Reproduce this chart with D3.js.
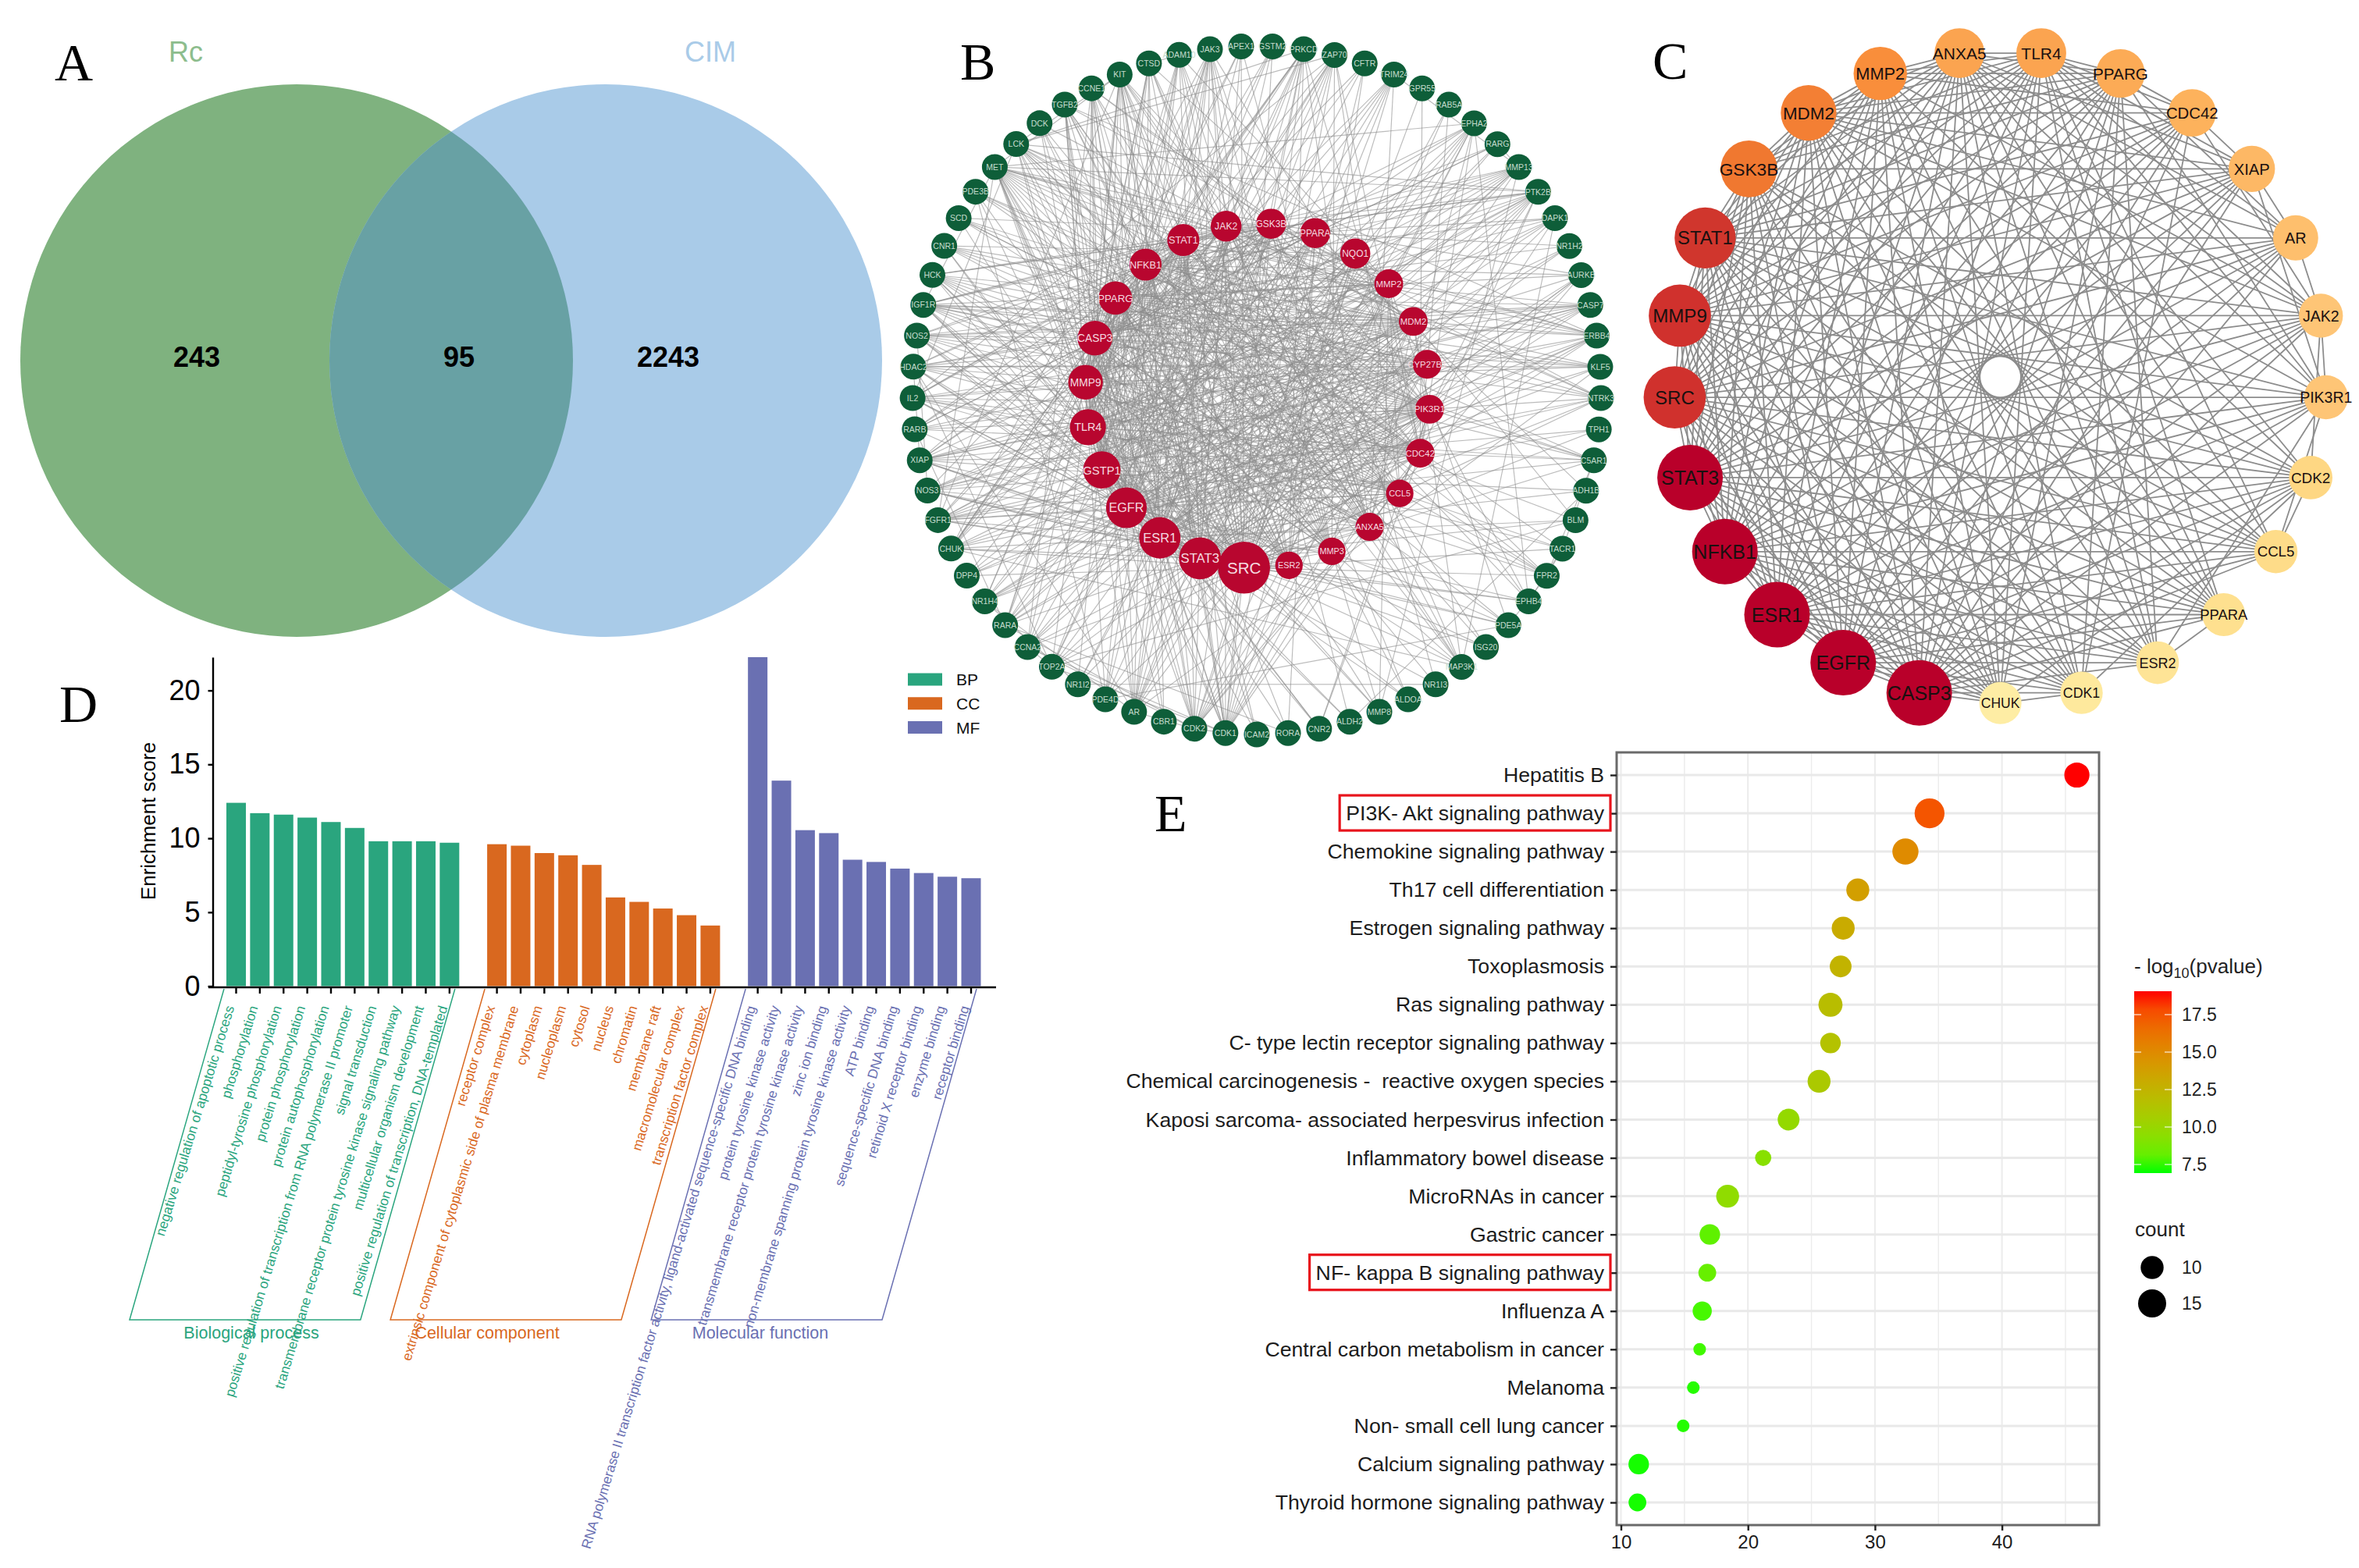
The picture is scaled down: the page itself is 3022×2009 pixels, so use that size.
<!DOCTYPE html>
<html><head><meta charset="utf-8">
<script src="https://cdn.jsdelivr.net/npm/d3@7/dist/d3.min.js"></script>
<style>
html,body{margin:0;padding:0;background:#fff}
svg{display:block}
text{font-family:"Liberation Sans",Arial,sans-serif;white-space:pre}
.panel{font-family:"Liberation Serif","Times New Roman",serif;font-size:68px;fill:#000}
</style></head><body>
<svg id="chart" width="3022" height="2009" viewBox="0 0 3022 2009"></svg>
<script>
// ---------- Panel A data ----------
const vennSets = ["Rc", "CIM"];
const vennCounts = [243, 95, 2243];

// ---------- Panel B data ----------
const hubNames = ["SRC","ESR2","MMP3","ANXA5","CCL5","CDC42","PIK3R1","CYP27B1","MDM2","MMP2","NQO1","PPARA","GSK3B","JAK2","STAT1","NFKB1","PPARG","CASP3","MMP9","TLR4","GSTP1","EGFR","ESR1","STAT3"];
const hubDegree = [60,23,23,24,23,25,25,25,25,25,27,27,27,28,30,30,32,34,34,36,38,43,44,45];
const ringNames = ["APEX1","GSTM2","PRKCD","ZAP70","CFTR","TRIM24","GPR55","RAB5A","EPHA2","RARG","MMP13","PTK2B","DAPK1","NR1H2","AURKB","CASP7","ERBB4","KLF5","NTRK3","TPH1","C5AR1","ADH1B","BLM","TACR1","FPR2","EPHB4","PDE5A","ISG20","MAP3K1","NR1I3","ALDOA","MMP8","ALDH2","CNR2","RORA","ICAM2","CDK1","CDK2","CBR1","AR","PDE4D","NR1I2","TOP2A","CCNA2","RARA","NR1H4","DPP4","CHUK","FGFR1","NOS3","XIAP","RARB","IL2","HDAC2","NOS2","IGF1R","HCK","CNR1","SCD","PDE3B","MET","LCK","DCK","TGFB2","CCNE1","KIT","CTSD","ADAM10","JAK3"];
// hub partners of each ring gene (indexes into hubNames), estimated
const ringToHub = [[17,23,0,21],[20,0,19],[0,21,23,22,17,5,13,12,15],[0,21,23,13,14,19,5],[17,21,0],[22,21,0,23,20],[0,5],[0,23,5],[0,21,18,23,5,12,17,9],[22,16,11],[17,18,16,15,14,9,8],[0,21,23,5,14,13,6,15,17],[17,15,14,21,6],[16,11,22,20],[12,0,23,22,15],[17,19,16,18,15,21,8],[21,0,23,22,13,6,14],[22,15,21,17],[0,21,6,13,12,23],[20,0,21],[0,21,15,6,19,5],[20,22,11],[8,22,17,23],[19,15,4,0],[15,4,19,0,5,18],[0,21,23,5,6,14],[16,22,17,2,9],[22,20,15],[15,17,12,13,0,19],[16,23,11],[0,21,2],[18,9,2,16,0],[20,22,13],[5,6,19,22],[16,11,22],[15,19,23],[12,17,0,21,22,15,14,8,23,5,6,13],[12,22,0,21,17,23,15,14,8,6],[20,16,22],[22,21,0,23,15,12,19,17],[19,15,0,23],[16,11,22,23],[17,21,0,8],[12,8,17,0,23],[11,16,22,15,17,23],[16,22,11,17,8],[0,21,19],[15,14,13,12,17,22,23,0],[0,21,23,6,13,22,14],[19,21,22,0,23,15,5],[17,15,0,21,8,23,12,22,19],[16,11,22,15],[14,13,23,19,15,18,0,21],[15,14,22,23,0,8,17],[15,14,19,23,17,0,22],[0,21,23,13,6,22,14,12,17,9],[0,21,14,5,6,12,19],[5,6,22,8],[16,22,11],[15,19,0],[0,21,23,6,13,14,5,18,17,9,12,22],[0,21,14,13,5,19,15,23],[22,0,8],[15,23,9,18,19,17,21],[12,8,0,22,23,17,21],[0,21,14,23,5,6,13,18,19,17,15],[17,9,22,0,19,15],[21,0,9,19,17,23,15],[14,23,21,0,13,19,15,6,17]];
// further hub links that cross the centre of the ring
const ringToHubCross = {APEX1:[18,3],GSTM2:[22,15],PRKCD:[20,18,3,1],ZAP70:[20,2,22,4],CFTR:[19,1],TRIM24:[18,3,19],EPHA2:[20,22,3],MMP13:[19,20,21,22],PTK2B:[19,20,18,22],DAPK1:[19,20,23],AURKB:[19,16],CASP7:[20,22,23],ERBB4:[19,16,15],KLF5:[18,16],NTRK3:[16,17,15],C5AR1:[16,17],FPR2:[16],MAP3K1:[14,8],CDK1:[10,11,9,7],CDK2:[10,7,9,5],AR:[11,13,14,9,10],PDE4D:[14,13,11],TOP2A:[12,13,10],CCNA2:[14,10,9],RARA:[7,9,12],NR1H4:[7,6,12],DPP4:[8,6,10],CHUK:[5,6,8,7],FGFR1:[5,8,4,9,7],NOS3:[6,7,8,9],XIAP:[5,6,4,7,10],RARB:[8,7,6,5],IL2:[6,5,8,4,7,3],HDAC2:[6,5,4,9,7],NOS2:[8,6,5,4,7,9],IGF1R:[5,4,7,8,3],HCK:[7,4,8,3,2],CNR1:[4,7,10],SCD:[7,6,5,4],PDE3B:[5,6,4],MET:[4,7,3,2,1],LCK:[3,2,4,6],DCK:[1,3,20],TGFB2:[2,3,1,20],CCNE1:[20,2,3,19],KIT:[1,2,20,22],CTSD:[18,2,20,3],ADAM10:[2,3,20,1],JAK3:[1,2,3,22,20]};
const ringToRing = [["NR1I3","NR1I2"],["MMP13","RARG"],["MMP13","TRIM24"],["EPHA2","MET"],["CDK1","CDK2"],["CDK1","CCNA2"],["CDK2","CCNA2"],["CDK2","AURKB"],["CCNE1","CDK2"],["CCNE1","CCNA2"],["KIT","LCK"],["KIT","MET"],["LCK","ZAP70"],["PTK2B","MET"],["PTK2B","LCK"],["ERBB4","MET"],["FGFR1","MET"],["FGFR1","KIT"],["NTRK3","LCK"],["NTRK3","FGFR1"],["HDAC2","XIAP"],["RARA","RARB"],["RARA","RARG"],["RARB","RARG"],["NR1H2","NR1H4"],["NR1H4","NR1I2"],["ALDH2","ADH1B"],["TACR1","FPR2"],["FPR2","C5AR1"],["C5AR1","TACR1"],["EPHB4","EPHA2"],["PDE5A","NOS3"],["PDE4D","PDE5A"],["PDE3B","PDE4D"],["CNR1","CNR2"],["TOP2A","HDAC2"],["TOP2A","CCNA2"],["AURKB","TOP2A"],["MMP8","MMP13"],["CTSD","ADAM10"],["NOS2","NOS3"],["IGF1R","MET"],["DAPK1","MAP3K1"],["BLM","TOP2A"],["CHUK","MAP3K1"],["RORA","RARA"],["IL2","LCK"],["TGFB2","MAP3K1"],["TACR1","EPHB4"],["FPR2","PDE5A"],["ISG20","KIT"],["ALDOA","CTSD"],["IL2","ZAP70"],["MET","CDK1"],["MET","CDK2"],["KIT","CDK1"],["IGF1R","KLF5"],["NOS2","CASP7"],["XIAP","CASP7"],["HCK","PTK2B"],["LCK","PRKCD"],["HDAC2","KLF5"],["CHUK","PRKCD"],["CHUK","JAK3"],["FGFR1","PTK2B"],["IGF1R","ERBB4"],["TGFB2","ERBB4"],["NOS3","ERBB4"],["AR","KLF5"],["AR","HDAC2"],["AR","NR1H4"],["CDK1","TOP2A"],["CDK2","AR"],["CDK2","RARA"]];
// hub pairs with no visible link; all other hub pairs are linked
const hubGaps = {0:[11,12],1:[2,3,4,5,7,8,9,10,12,13,19],2:[3,4,5,6,7,8,10,11,13,14,19,20],3:[4,6,7,9,10,11,14,15,16],4:[5,7,8,10,11,15,16,17,20],5:[7,8,10,11,12,16,17,20],6:[7,9,10,11,17,18],7:[8,9,11,12,13,14,15,16,18,19],8:[9,10,11,16,18,19,20],9:[10,11,13,20,21],10:[11,12,13,14,16,18,19,21,22],11:[12,13,14,18,19,22,23],12:[19,23],13:[19,20]};

// ---------- Panel C data ----------
const coreNames = ["CHUK","CASP3","EGFR","ESR1","NFKB1","STAT3","SRC","MMP9","STAT1","GSK3B","MDM2","MMP2","ANXA5","TLR4","PPARG","CDC42","XIAP","AR","JAK2","PIK3R1","CDK2","CCL5","PPARA","ESR2","CDK1"];
const coreDegree = [30,56,56,56,56,56,53,53,52,48,47,45,42,42,41,40,39,38,37,37,35,34,33,32,31];
const coreGaps = [["CHUK","PPARA"],["CHUK","CCL5"],["CHUK","PIK3R1"],["CHUK","XIAP"],["CHUK","AR"],["CHUK","JAK2"],["CHUK","CDC42"],["CHUK","ESR2"],
["CDK1","PPARA"],["CDK1","ESR2"],["CDK1","CCL5"],["CDK1","AR"],["CDK1","TLR4"],["CDK1","XIAP"],["CDK1","JAK2"],["CDK1","PIK3R1"],
["ESR2","CCL5"],["ESR2","CDK2"],["ESR2","XIAP"],["ESR2","AR"],["ESR2","JAK2"],["ESR2","GSK3B"],["ESR2","CDC42"],
["PPARA","CCL5"],["PPARA","CDK2"],["PPARA","PIK3R1"],["PPARA","JAK2"],["PPARA","XIAP"],["PPARA","CDC42"],["PPARA","PPARG"],["PPARA","AR"],
["CCL5","AR"],["CCL5","XIAP"],["CCL5","JAK2"],["CCL5","PPARG"],["CCL5","MMP2"],["CCL5","CDC42"],
["CDK2","PIK3R1"],["CDK2","AR"],["CDK2","CDC42"],["CDK2","TLR4"],["CDK2","MDM2"],["CDK2","PPARG"],["CDK2","XIAP"],
["PIK3R1","AR"],["PIK3R1","GSK3B"],["PIK3R1","MMP2"],["PIK3R1","CDC42"],
["JAK2","XIAP"],["JAK2","GSK3B"],["JAK2","PPARG"],
["AR","CDC42"],["AR","GSK3B"],["AR","MMP2"],
["XIAP","PPARG"],["XIAP","MMP2"],
["CDC42","GSK3B"],["CDC42","ANXA5"]];

// ---------- Panel D data ----------
const goGroups = ["BP","CC","MF"];
const goGroupTitles = ["Biological process","Cellular component","Molecular function"];
const bpTerms = ["negative regulation of apoptotic process","phosphorylation","peptidyl-tyrosine phosphorylation","protein phosphorylation","protein autophosphorylation","positive regulation of transcription from RNA polymerase II promoter","signal transduction","transmembrane receptor protein tyrosine kinase signaling pathway","multicellular organism development","positive regulation of transcription, DNA-templated"];
const bpScores = [12.4,11.7,11.6,11.4,11.1,10.7,9.8,9.8,9.8,9.7];
const ccTerms = ["receptor complex","extrinsic component of cytoplasmic side of plasma membrane","cytoplasm","nucleoplasm","cytosol","nucleus","chromatin","membrane raft","macromolecular complex","transcription factor complex"];
const ccScores = [9.6,9.5,9.0,8.85,8.2,6.0,5.7,5.25,4.8,4.1];
const mfTerms = ["RNA polymerase II transcription factor activity, ligand-activated sequence-specific DNA binding","protein tyrosine kinase activity","transmembrane receptor protein tyrosine kinase activity","zinc ion binding","non-membrane spanning protein tyrosine kinase activity","ATP binding","sequence-specific DNA binding","retinoid X receptor binding","enzyme binding","receptor binding"];
const mfScores = [22.25,13.9,10.55,10.35,8.55,8.4,7.95,7.65,7.4,7.3];
const yTicksD = [0,5,10,15,20];

// ---------- Panel E data ----------
const pathways = ["Hepatitis B","PI3K- Akt signaling pathway","Chemokine signaling pathway","Th17 cell differentiation","Estrogen signaling pathway","Toxoplasmosis","Ras signaling pathway","C- type lectin receptor signaling pathway","Chemical carcinogenesis -  reactive oxygen species","Kaposi sarcoma- associated herpesvirus infection","Inflammatory bowel disease","MicroRNAs in cancer","Gastric cancer","NF- kappa B signaling pathway","Influenza A","Central carbon metabolism in cancer","Melanoma","Non- small cell lung cancer","Calcium signaling pathway","Thyroid hormone signaling pathway"];
const richFactor = [45.9,34.3,32.4,28.65,27.5,27.3,26.5,26.5,25.6,23.2,21.2,18.4,17.0,16.8,16.4,16.2,15.7,14.9,11.4,11.3];
const pathCounts = [12,17,13,10,10,9,11,8,10,9,5,10,8,6,7,3,3,3,8,6];
const negLogP = [19.06,17.5,15,13.8,13,12.5,11.8,11.5,11,9.8,9.3,9.6,8,8.2,7.5,7.4,7.1,7.1,7,7];
const highlighted = ["PI3K- Akt signaling pathway","NF- kappa B signaling pathway"];
const xTicksE = [10,20,30,40];
const colorTicksE = [7.5,10,12.5,15,17.5];
const sizeTicksE = [10,15];

const svg = d3.select("#chart");
const panelLetter = (t,x,y)=>svg.append("text").attr("class","panel").attr("x",x).attr("y",y).text(t);

// ========== A: Venn ==========
(function(){
  const g = svg.append("g");
  const cx = d3.scalePoint().domain(vennSets).range([380,776]);
  const cy = 462, r = 354;
  const col = {Rc:"#7fb27f",CIM:"#a9cbe8"};
  g.selectAll("circle").data(vennSets).join("circle")
    .attr("cx",d=>cx(d)).attr("cy",cy).attr("r",r).attr("fill",d=>col[d]);
  svg.append("defs").append("clipPath").attr("id","vennClip").append("circle")
    .attr("cx",cx("Rc")).attr("cy",cy).attr("r",r);
  g.append("circle").attr("cx",cx("CIM")).attr("cy",cy).attr("r",r)
    .attr("fill","#68a1a4").attr("clip-path","url(#vennClip)");
  const lblCol = {Rc:"#8dbd8d",CIM:"#a9cbe8"}, lblX={Rc:238,CIM:910};
  g.selectAll("text.set").data(vennSets).join("text").attr("class","set")
    .attr("x",d=>lblX[d]).attr("y",79).attr("text-anchor","middle")
    .attr("font-size",36).attr("fill",d=>lblCol[d]).text(d=>d);
  const numX = [252,588,856];
  g.selectAll("text.num").data(vennCounts).join("text").attr("class","num")
    .attr("x",(d,i)=>numX[i]).attr("y",470).attr("text-anchor","middle")
    .attr("font-size",36).attr("font-weight","bold").attr("fill","#000").text(d=>d);
  panelLetter("A",70,103);
})();

// ========== B: network ==========
(function(){
  const g = svg.append("g");
  const cx = 1610, cy = 500, R = 441;
  const hcx = 1611, hcy = 507, hR = 221;
  const ang = d3.scaleLinear().domain([0,69]).range([-2.6,357.4]);
  const hubAng = d3.scaleLinear().domain([0,24]).range([184.5,-175.5]);
  const rad = d=>d*Math.PI/180;
  const ringPos = {};
  ringNames.forEach((n,i)=>{const a=rad(ang(i));ringPos[n]=[cx+R*Math.sin(a),cy-R*Math.cos(a)];});
  const hubPos = hubNames.map((n,i)=>{const a=rad(hubAng(i));return [hcx+hR*Math.sin(a),hcy-hR*Math.cos(a)];});
  const links=[];
  ringToHub.forEach((arr,i)=>arr.forEach(h=>links.push([ringPos[ringNames[i]],hubPos[h]])));
  Object.entries(ringToHubCross).forEach(([n,arr])=>arr.forEach(h=>links.push([ringPos[n],hubPos[h]])));
  ringToRing.forEach(([a,b])=>links.push([ringPos[a],ringPos[b]]));
  hubNames.forEach((_,i)=>{for(let j=i+1;j<hubNames.length;j++){
    if(!(hubGaps[i]||[]).includes(j)) links.push([hubPos[i],hubPos[j]]);
  }});
  g.append("g").selectAll("line").data(links).join("line")
    .attr("x1",d=>d[0][0]).attr("y1",d=>d[0][1]).attr("x2",d=>d[1][0]).attr("y2",d=>d[1][1])
    .attr("stroke","#8e8e8e").attr("stroke-width",1.15).attr("stroke-opacity",.6);
  const ringG = g.append("g").selectAll("g").data(ringNames).join("g")
    .attr("transform",d=>`translate(${ringPos[d]})`);
  ringG.append("circle").attr("r",16.5).attr("fill","#0e5e39");
  ringG.append("text").attr("text-anchor","middle").attr("dy",".36em")
    .attr("font-size",10.5).attr("fill","#c5dccd").text(d=>d);
  const hubR = d3.scaleLinear().domain([23,60]).range([17.6,33.3]);
  const hubG = g.append("g").selectAll("g").data(hubNames).join("g")
    .attr("transform",(d,i)=>`translate(${hubPos[i]})`);
  hubG.append("circle").attr("r",(d,i)=>hubR(hubDegree[i])).attr("fill","#b8062f");
  hubG.append("text").attr("text-anchor","middle").attr("dy",".36em")
    .attr("font-size",(d,i)=>hubR(hubDegree[i])*.62).attr("fill","#f5dbe0").text(d=>d);
  panelLetter("B",1230,102);
})();

// ========== C: core network ==========
(function(){
  const g = svg.append("g");
  const cx = 2562.6, cy = 482.8, R = 418;
  const ang = d3.scaleLinear().domain([0,25]).range([180,540]);
  const pos = {};
  coreNames.forEach((n,i)=>{const a=ang(i)*Math.PI/180;pos[n]=[cx+R*Math.sin(a),cy-R*Math.cos(a)];});
  const gap = new Set(coreGaps.map(p=>p.join("|")));
  const links=[];
  coreNames.forEach((a,i)=>coreNames.slice(i+1).forEach(b=>{
    if(!gap.has(a+"|"+b)&&!gap.has(b+"|"+a)) links.push([pos[a],pos[b]]);
  }));
  g.append("g").selectAll("line").data(links).join("line")
    .attr("x1",d=>d[0][0]).attr("y1",d=>d[0][1]).attr("x2",d=>d[1][0]).attr("y2",d=>d[1][1])
    .attr("stroke","#8c8c8c").attr("stroke-width",1.8);
  const r = d3.scaleLinear().domain([30,37,45,56]).range([27,28.2,34.2,42]);
  const col = d3.scaleLinear().domain([30,33,35,37,40,42,45,48,52,53,56])
    .range(["#feeda4","#fee08f","#fed783","#fec576","#fdb25c","#fba450","#f98e3b","#f07830","#d0362d","#d0312d","#b9002a"]);
  const font = d3.scaleLinear().domain([30,56]).range([17.5,25]);
  const node = g.append("g").selectAll("g").data(coreNames).join("g")
    .attr("transform",d=>`translate(${pos[d]})`);
  node.append("circle").attr("r",(d,i)=>r(coreDegree[i])).attr("fill",(d,i)=>col(coreDegree[i]));
  node.append("text").attr("text-anchor","middle").attr("dy",".36em")
    .attr("font-size",(d,i)=>font(coreDegree[i])).attr("fill","#1a1010").text(d=>d);
  panelLetter("C",2117,101);
})();

// ========== D: GO bars ==========
(function(){
  const g = svg.append("g");
  const gapKeys = ["__gap1","__gap2"];
  const domain = [...bpTerms,gapKeys[0],...ccTerms,gapKeys[1],...mfTerms];
  const x = d3.scaleBand().domain(domain).range([290,1256.5]).paddingInner(.177).paddingOuter(0);
  const y = d3.scaleLinear().domain([0,22.25]).range([1263.5,842]);
  const color = d3.scaleOrdinal().domain(goGroups).range(["#2aa57e","#d9681f","#6a70b2"]);
  const rows = [
    ...bpTerms.map((t,i)=>({t,v:bpScores[i],g:"BP"})),
    ...ccTerms.map((t,i)=>({t,v:ccScores[i],g:"CC"})),
    ...mfTerms.map((t,i)=>({t,v:mfScores[i],g:"MF"}))];
  g.selectAll("rect.bar").data(rows).join("rect").attr("class","bar")
    .attr("x",d=>x(d.t)).attr("width",x.bandwidth())
    .attr("y",d=>y(d.v)).attr("height",d=>y(0)-y(d.v)).attr("fill",d=>color(d.g));
  // y axis
  const ya = g.append("g").attr("transform","translate(272.5,0)")
    .call(d3.axisLeft(y).tickValues(yTicksD).tickSize(6).tickPadding(10).tickSizeOuter(0));
  ya.selectAll("text").attr("font-size",36).attr("fill","#000").style("font-family",'"Liberation Sans"');
  ya.selectAll("line,path").attr("stroke","#000").attr("stroke-width",2.4);
  g.append("text").attr("transform","translate(199,1052) rotate(-90)")
    .attr("text-anchor","middle").attr("font-size",26).attr("fill","#000").text("Enrichment score");
  // x axis
  const xa = g.append("g").attr("transform","translate(0,1265)")
    .call(d3.axisBottom(x).tickValues(rows.map(d=>d.t)).tickSize(8).tickPadding(0));
  xa.select(".domain").remove();
  xa.selectAll("line").attr("stroke","#000").attr("stroke-width",2.4);
  xa.selectAll("text").each(function(d){
    const r = rows.find(o=>o.t===d);
    d3.select(this).attr("fill",color(r.g)).attr("font-size",17.4).attr("text-anchor","end")
      .style("font-family",'"Liberation Sans"')
      .attr("dy",null).attr("y",null)
      .attr("transform",`translate(-8,24) rotate(-73)`)
      .attr("dominant-baseline","central");
  });
  g.append("line").attr("x1",267).attr("x2",1276).attr("y1",1265).attr("y2",1265)
    .attr("stroke","#000").attr("stroke-width",2.6);
  // brackets
  const groupTerms = [bpTerms,ccTerms,mfTerms];
  const titleX = [322,624,974];
  goGroups.forEach((k,i)=>{
    const a = x(groupTerms[i][0])+x.bandwidth()/2-15.5;
    const b = x(groupTerms[i][9])+x.bandwidth()/2+7;
    const path = d3.path();
    path.moveTo(a,1267); path.lineTo(a-121,1691); path.lineTo(b-121,1691); path.lineTo(b,1267);
    g.append("path").attr("d",path.toString()).attr("fill","none")
      .attr("stroke",color(k)).attr("stroke-width",1.5);
    g.append("text").attr("x",titleX[i]).attr("y",1715).attr("text-anchor","middle")
      .attr("font-size",21.5).attr("fill",color(k)).text(goGroupTitles[i]);
  });
  // legend
  const ly = d3.scalePoint().domain(goGroups).range([870.5,932]);
  const lg = g.append("g").selectAll("g").data(goGroups).join("g");
  lg.append("rect").attr("x",1163).attr("width",44).attr("y",d=>ly(d)-8).attr("height",16).attr("fill",d=>color(d));
  lg.append("text").attr("x",1225).attr("y",d=>ly(d)+7.5).attr("font-size",21).attr("fill","#111").text(d=>d);
  panelLetter("D",76,925);
})();

// ========== E: dot plot ==========
(function(){
  const g = svg.append("g");
  const L=2071,R=2689,T=964,B=1954;
  const x = d3.scaleLinear().domain([10,40]).range([2076.5,2564.6]);
  const y = d3.scalePoint().domain(pathways).range([993,1925]);
  // grid
  const minor=[15,25,35,45];
  g.selectAll("line.gv").data([...xTicksE,...minor]).join("line").attr("class","gv")
    .attr("x1",d=>x(d)).attr("x2",d=>x(d)).attr("y1",T).attr("y2",B)
    .attr("stroke","#ededed").attr("stroke-width",d=>minor.includes(d)?1.5:2.2);
  g.selectAll("line.gh").data(pathways).join("line").attr("class","gh")
    .attr("y1",d=>y(d)).attr("y2",d=>y(d)).attr("x1",L).attr("x2",R)
    .attr("stroke","#e9e9e9").attr("stroke-width",3);
  g.append("rect").attr("x",L).attr("y",T).attr("width",R-L).attr("height",B-T)
    .attr("fill","none").attr("stroke","#6a6a6a").attr("stroke-width",3);
  const size = d3.scaleSqrt().domain([0,15]).range([0,18]);
  const col = d3.scaleLinear().domain([6.93,19.06]).range(["#00ff00","#ff0000"]).interpolate(d3.interpolateLab);
  g.selectAll("circle.dot").data(pathways).join("circle").attr("class","dot")
    .attr("cx",(d,i)=>x(richFactor[i])).attr("cy",d=>y(d))
    .attr("r",(d,i)=>size(pathCounts[i])).attr("fill",(d,i)=>col(negLogP[i]));
  // axes
  const ya = g.append("g").attr("transform",`translate(${L},0)`)
    .call(d3.axisLeft(y).tickSize(8).tickPadding(8));
  ya.select(".domain").remove();
  ya.selectAll("line").attr("stroke","#222").attr("stroke-width",2.4);
  ya.selectAll("text").attr("font-size",26.7).attr("fill","#1c1c1c").style("font-family",'"Liberation Sans"').style("white-space","pre");
  const xa = g.append("g").attr("transform",`translate(0,${B})`)
    .call(d3.axisBottom(x).tickValues(xTicksE).tickSize(7).tickPadding(6));
  xa.select(".domain").remove();
  xa.selectAll("line").attr("stroke","#222").attr("stroke-width",2.4);
  xa.selectAll("text").attr("font-size",24).attr("fill","#1c1c1c").style("font-family",'"Liberation Sans"');
  // highlight boxes, sized on their label
  ya.selectAll(".tick").filter(d=>highlighted.includes(d)).each(function(d){
    const w = d3.select(this).select("text").node().getComputedTextLength();
    g.append("rect").attr("x",2055-w-8).attr("y",y(d)-23).attr("width",w+16).attr("height",45)
      .attr("fill","none").attr("stroke","#e8141c").attr("stroke-width",3.2);
  });
  // colour legend
  const defs = svg.append("defs");
  const grad = defs.append("linearGradient").attr("id","plegend").attr("x1",0).attr("x2",0).attr("y1",1).attr("y2",0);
  d3.range(0,1.001,.1).forEach(t=>grad.append("stop").attr("offset",t).attr("stop-color",col(6.93+t*(19.06-6.93))));
  const ly = d3.scaleLinear().domain([7.5,17.5]).range([1492,1300]);
  g.append("rect").attr("x",2734).attr("width",48).attr("y",1270).attr("height",233).attr("fill","url(#plegend)");
  colorTicksE.forEach(v=>{
    [[2734,2743],[2773,2782]].forEach(([a,b])=>g.append("line").attr("x1",a).attr("x2",b).attr("y1",ly(v)).attr("y2",ly(v))
      .attr("stroke","#fff").attr("stroke-opacity",.7).attr("stroke-width",1.5));
    g.append("text").attr("x",2795).attr("y",ly(v)+8).attr("font-size",23).attr("fill","#222").text(v.toFixed(1));
  });
  const title = g.append("text").attr("x",2734).attr("y",1247).attr("font-size",26).attr("fill","#222");
  title.append("tspan").text("- log");
  title.append("tspan").attr("font-size",18).attr("dy",6).text("10");
  title.append("tspan").attr("dy",-6).text("(pvalue)");
  g.append("text").attr("x",2735).attr("y",1584).attr("font-size",26).attr("fill","#222").text("count");
  const sy = d3.scalePoint().domain(sizeTicksE).range([1624,1670]);
  g.selectAll("circle.sz").data(sizeTicksE).join("circle").attr("class","sz")
    .attr("cx",2757).attr("cy",d=>sy(d)).attr("r",d=>size(d)).attr("fill","#000");
  g.selectAll("text.sz").data(sizeTicksE).join("text").attr("class","sz")
    .attr("x",2795).attr("y",d=>sy(d)+8).attr("font-size",23).attr("fill","#222").text(d=>d);
  panelLetter("E",1479,1065);
})();
</script>
</body></html>
